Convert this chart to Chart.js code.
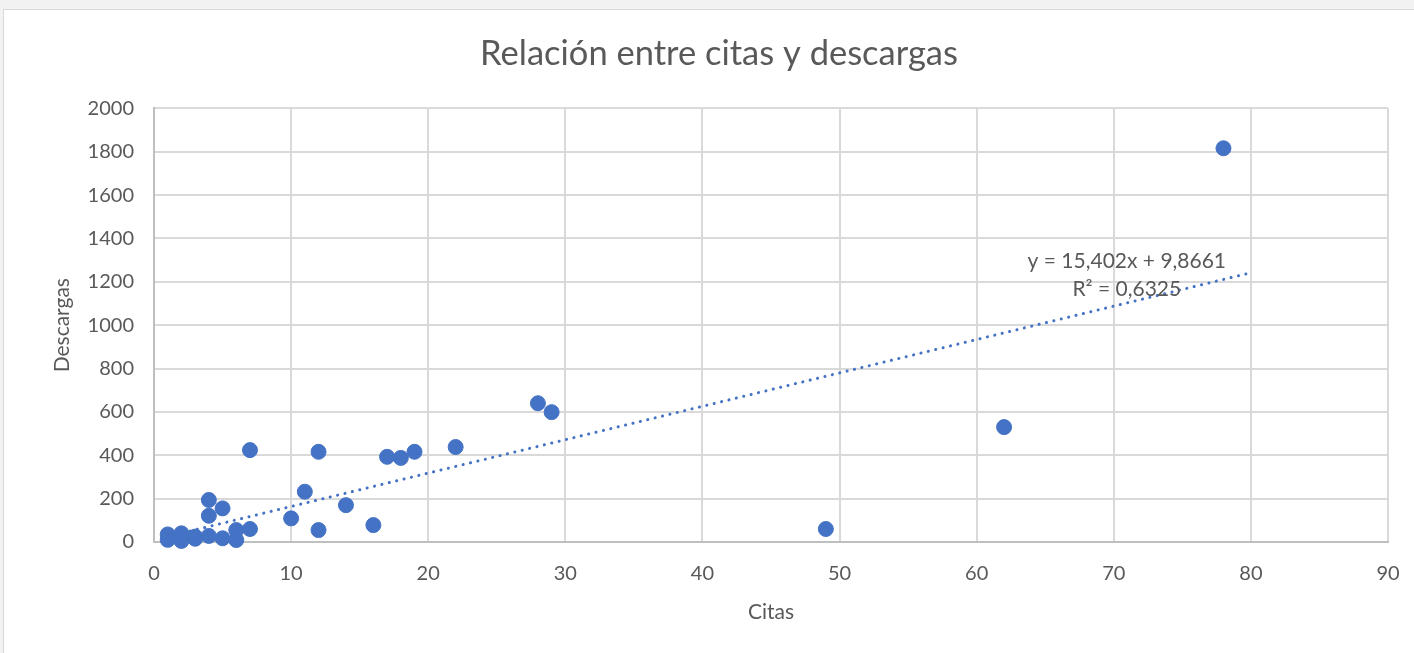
<!DOCTYPE html>
<html>
<head>
    <meta charset="utf-8">
    <title>Relación entre citas y descargas</title>
    <script src="https://cdn.jsdelivr.net/npm/chart.js"></script>
    <style>
        body { margin: 0; background: #f2f2f2; }
        .chart-box {
            position: absolute;
            left: 3px;
            top: 9px;
            width: 1411px;
            height: 644px;
            background: #ffffff;
            border-top: 1px solid #d9d9d9;
            border-left: 1px solid #d9d9d9;
            box-sizing: border-box;
        }
    </style>
</head>
<body>
    <div class="chart-box">
        <canvas id="scatterChart" width="1410" height="643"></canvas>
    </div>

    <script>
// citas (x) y descargas (y)
var citas = [1, 1, 2, 2, 3, 3, 4, 4, 4, 5, 5, 6, 6, 7, 7, 10, 11, 12, 12, 14, 16, 17, 18, 19, 22, 28, 29, 49, 62, 78];
var descargas = [35, 10, 40, 5, 15, 25, 194, 121, 28, 155, 17, 55, 9, 424, 60, 109, 232, 416, 55, 170, 78, 393, 388, 416, 438, 640, 599, 60, 530, 1816];

// línea de tendencia lineal mostrada en el gráfico
var trendSlope = 15.402;
var trendIntercept = 9.8661;
var trendRange = [1, 80];
var trendLabel = ['y = 15,402x + 9,8661', 'R² = 0,6325'];

var xTicks = { min: 0, max: 90, step: 10 };
var yTicks = { min: 0, max: 2000, step: 200 };

var textColor = '#595959';
var fontFamily = 'Lato, "Open Sans", sans-serif';

document.addEventListener('DOMContentLoaded', function() {
    var points = citas.map(function(c, i) { return { x: c, y: descargas[i] }; });
    var trendPoints = trendRange.map(function(x) { return { x: x, y: trendSlope * x + trendIntercept }; });

    // dibuja la ecuación de la tendencia
    var trendLabelPlugin = {
        id: 'trendLabel',
        afterDatasetsDraw: function(chart) {
            var ctx = chart.ctx;
            var xs = chart.scales.x, ys = chart.scales.y;
            var cx = xs.getPixelForValue(70.95);
            var cy = ys.getPixelForValue(1295);
            ctx.save();
            ctx.font = '21px ' + fontFamily;
            ctx.fillStyle = textColor;
            ctx.textAlign = 'center';
            ctx.textBaseline = 'middle';
            ctx.fillText(trendLabel[0], cx, cy);
            ctx.fillText(trendLabel[1], cx, cy + 28);
            ctx.restore();
        }
    };

    new Chart(document.getElementById('scatterChart'), {
        type: 'scatter',
        data: {
            datasets: [
                {
                    label: 'Descargas',
                    data: points,
                    backgroundColor: '#4472C4',
                    borderColor: '#4472C4',
                    pointRadius: 7.5,
                    pointHoverRadius: 7.5,
                    clip: false,
                    order: 1
                },
                {
                    type: 'line',
                    label: 'Tendencia',
                    data: trendPoints,
                    borderColor: '#4472C4',
                    borderWidth: 3,
                    borderDash: [0.1, 7.5],
                    borderCapStyle: 'round',
                    pointRadius: 0,
                    fill: false,
                    order: 0
                }
            ]
        },
        options: {
            responsive: false,
            animation: false,
            layout: { padding: { left: 46, right: 26, top: 0, bottom: 18 } },
            plugins: {
                legend: { display: false },
                tooltip: { enabled: false },
                title: {
                    display: true,
                    text: 'Relación entre citas y descargas',
                    color: textColor,
                    font: { family: fontFamily, size: 34.5, weight: 'normal' },
                    padding: { top: 23, bottom: 34 }
                }
            },
            scales: {
                x: {
                    type: 'linear',
                    min: xTicks.min,
                    max: xTicks.max,
                    ticks: {
                        stepSize: xTicks.step,
                        color: textColor,
                        padding: 20,
                        font: { family: fontFamily, size: 20 },
                        callback: function(v) { return String(v); }
                    },
                    grid: { color: '#d9d9d9', lineWidth: 2, drawTicks: false },
                    border: { color: '#bfbfbf', width: 2 },
                    title: {
                        display: true,
                        text: 'Citas',
                        color: textColor,
                        font: { family: fontFamily, size: 21 },
                        padding: { top: 0, bottom: 10 }
                    },
                    afterFit: function(scale) {
                        scale.height = 93;
                        scale.paddingLeft = 0;
                        scale.paddingRight = 0;
                    }
                },
                y: {
                    min: yTicks.min,
                    max: yTicks.max,
                    ticks: {
                        stepSize: yTicks.step,
                        color: textColor,
                        padding: 20,
                        font: { family: fontFamily, size: 20 },
                        callback: function(v) { return String(v); }
                    },
                    grid: { color: '#d9d9d9', lineWidth: 2, drawTicks: false },
                    border: { color: '#bfbfbf', width: 2 },
                    title: {
                        display: true,
                        text: 'Descargas',
                        color: textColor,
                        font: { family: fontFamily, size: 21 },
                        padding: { top: 0, bottom: 10 }
                    },
                    afterFit: function(scale) { scale.width = 104; }
                }
            }
        },
        plugins: [trendLabelPlugin]
    });
});
    </script>
</body>
</html>
